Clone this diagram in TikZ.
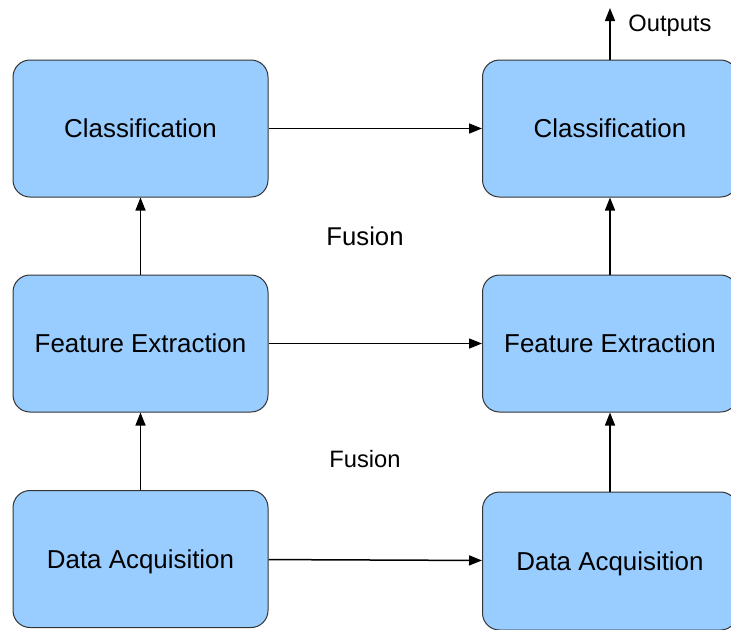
\documentclass[tikz,border=0pt]{standalone}
\usepackage{fontspec}
\setmainfont{Liberation Sans}
\usetikzlibrary{arrows.meta}
\definecolor{boxblue}{HTML}{99CCFF}
\tikzset{
  stage/.style={draw=black!80, fill=boxblue, rounded corners=8.5pt, line width=0.5pt,
    minimum width=127.5pt, minimum height=68.5pt, inner sep=0pt, text depth=0pt,
    font=\fontsize{12.95}{15}\selectfont},
  flow/.style={-{Triangle[length=6.5pt,width=5pt]}, line width=0.75pt},
}
\begin{document}
\begin{tikzpicture}[x=0.5pt,y=-0.5pt]
\useasboundingbox (0,0) rectangle (731,629);
\node[stage] (cls0) at (140.5,128.5){Classification};
\node[stage] (fex0) at (140.5,343.5){Feature Extraction};
\node[stage] (acq0) at (140.5,559){Data Acquisition};
\node[stage] (cls1) at (610,128.5){Classification};
\node[stage] (fex1) at (610,343.5){Feature Extraction};
\node[stage, minimum height=69pt] (acq1) at (610,561){Data Acquisition};
\node[font=\fontsize{12.85}{15}\selectfont] (fus0) at (365,236){Fusion};
\node[font=\fontsize{11.85}{14}\selectfont] (fus1) at (365,459){Fusion};
\coordinate (out) at (610,8);
\node[anchor=west, inner sep=0pt, text depth=0pt, font=\fontsize{11.85}{14}\selectfont] (outlbl) at (628,23){Outputs};
\draw[flow](acq0) -- (fex0);
\draw[flow](fex0) -- (cls0);
\draw[flow](acq1) -- (fex1);
\draw[flow](fex1) -- (cls1);
\draw[flow](cls0) -- (cls1);
\draw[flow](fex0) -- (fex1);
\draw[flow](acq0) -- (acq1);
\draw[flow](cls1) -- (out);

\end{tikzpicture}
\end{document}
